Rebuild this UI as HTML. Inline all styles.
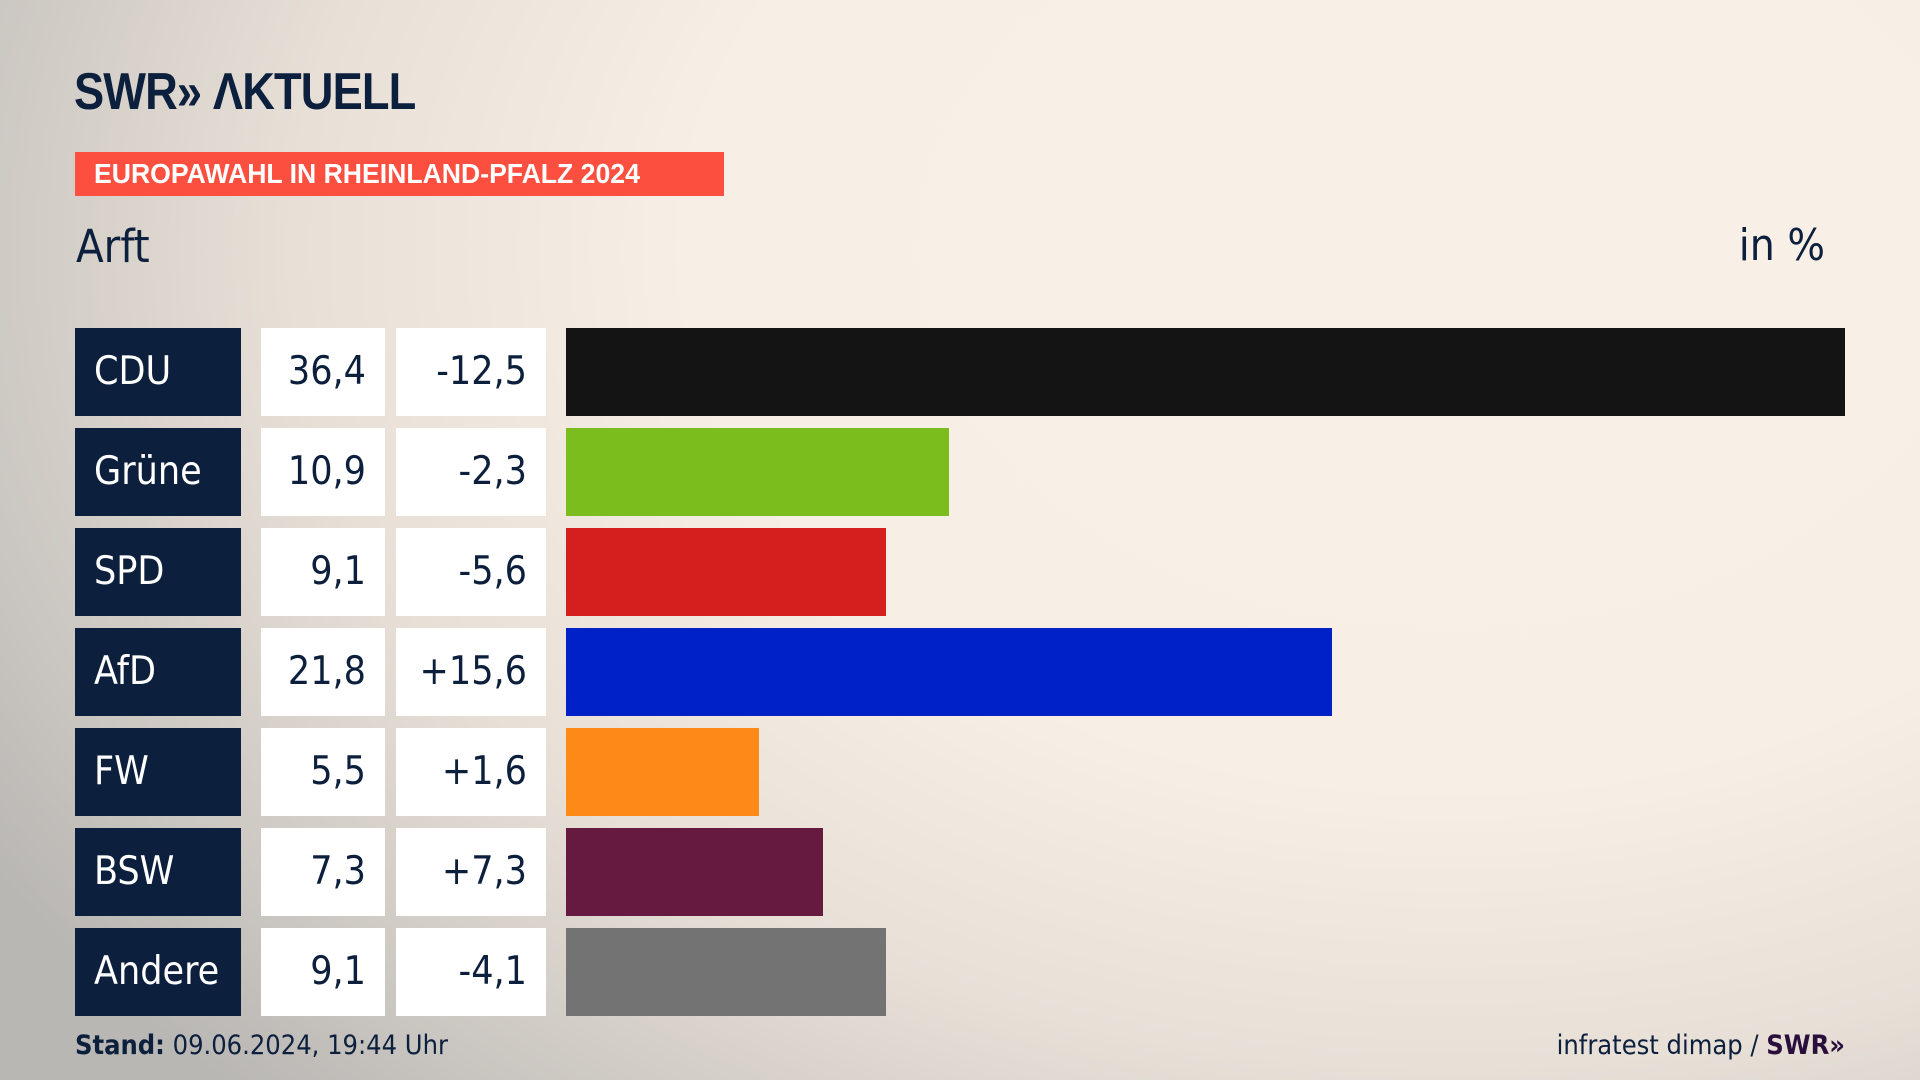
<!DOCTYPE html>
<html><head><meta charset="utf-8"><style>
*{margin:0;padding:0;box-sizing:border-box}
body{width:1920px;height:1080px;overflow:hidden;position:relative;font-family:"Liberation Sans",sans-serif;color:#0c1f3c;
background:radial-gradient(ellipse 1700px 1200px at 1450px 250px,#f8f0e6 0%,#f7efe5 45%,#e8e0d7 68%,#b9b7b4 100%);}
.abs{position:absolute}
#logo{left:74px;top:66px;font-family:"Liberation Sans Narrow","Liberation Sans",sans-serif;font-weight:bold;font-size:52px;letter-spacing:-1px;color:#0c1f3c;line-height:52px;transform:scaleX(0.87);transform-origin:left center}
#banner{left:75px;top:152px;width:649px;height:44px;background:#fd4f3f;color:#fff;font-family:"Liberation Sans Narrow","Liberation Sans",sans-serif;font-weight:bold;font-size:28px;line-height:44px;padding-left:19px}
#banner span{display:inline-block;transform:scaleX(0.95);transform-origin:left center}
#title{left:76px;top:220px;font-size:45px;font-family:"DejaVu Sans Condensed","Liberation Sans",sans-serif}
#unit{right:95px;top:220px;font-size:44px;font-family:"DejaVu Sans Condensed","Liberation Sans",sans-serif}
.box{position:absolute;height:88px;line-height:88px;font-size:39px;font-family:"DejaVu Sans Condensed","Liberation Sans",sans-serif}
.name{left:75px;width:166px;background:#0c1f3c;color:#fff;padding-left:19px}
.val{left:261px;width:124px;background:#fff;text-align:right;padding-right:19px}
.diff{left:396px;width:150px;background:#fff;text-align:right;padding-right:19px}
.bar{position:absolute;height:88px}
.foot{top:1030px;font-size:27px;font-family:"Liberation Sans Narrow","DejaVu Sans Condensed",sans-serif}
</style></head><body>
<div id="logo" class="abs">SWR»&nbsp;ΛKTUELL</div>
<div id="banner" class="abs"><span>EUROPAWAHL IN RHEINLAND-PFALZ 2024</span></div>
<div id="title" class="abs">Arft</div>
<div id="unit" class="abs">in %</div>
<div id="chart"></div>
<div class="abs foot" style="left:75px"><b>Stand:</b> 09.06.2024, 19:44 Uhr</div>
<div class="abs foot" style="right:75px">infratest dimap / <b style="color:#2a0f3c">SWR»</b></div>
<script>
const parties=["CDU","Grüne","SPD","AfD","FW","BSW","Andere"];
const shares=[36.4,10.9,9.1,21.8,5.5,7.3,9.1];
const changes=["-12,5","-2,3","-5,6","+15,6","+1,6","+7,3","-4,1"];
const colors=["#141414","#7abd1c","#d51f1f","#0021c8","#fd8a17","#661a3f","#737373"];
const x0=566, pxPer=(1845-566)/36.4, y0=328, pitch=100;
const xs=v=>v*pxPer;
const yr=i=>y0+i*pitch;
const c=document.getElementById('chart');
parties.forEach((p,i)=>{
  const y=yr(i);
  const n=document.createElement('div');n.className='box name';n.style.top=y+'px';n.textContent=p;
  
  
  c.appendChild(n);
  const v=document.createElement('div');v.className='box val';v.style.top=y+'px';v.textContent=shares[i].toFixed(1).replace('.',',');
  
  
  c.appendChild(v);
  const d=document.createElement('div');d.className='box diff';d.style.top=y+'px';d.textContent=changes[i];
  
  
  c.appendChild(d);
  const b=document.createElement('div');b.className='bar';b.style.top=y+'px';b.style.left=x0+'px';b.style.width=xs(shares[i])+'px';b.style.background=colors[i];
  
  
  c.appendChild(b);
});
</script>
</body></html>
